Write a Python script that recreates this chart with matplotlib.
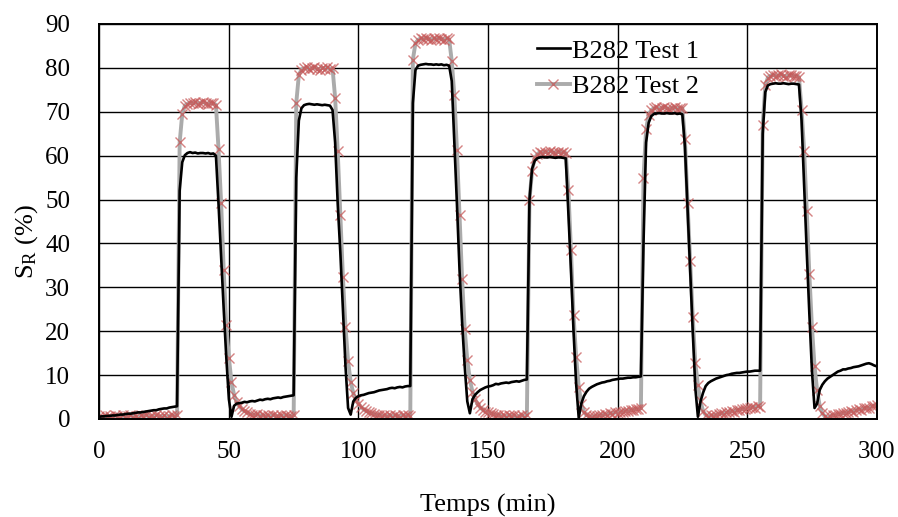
import numpy as np
import matplotlib
matplotlib.use("Agg")
import matplotlib.pyplot as plt

plt.rcParams['font.family'] = ['Liberation Serif', 'DejaVu Serif']
plt.rcParams['mathtext.fontset'] = 'custom'
plt.rcParams['mathtext.rm'] = 'Liberation Serif'
plt.rcParams['mathtext.it'] = 'Liberation Serif:italic'

# temps (min), un point par minute
temps = np.arange(0, 301)

# B282 Test 1 (S_R en %)
test1 = [
    0.5, 0.6, 0.6, 0.7, 0.7, 0.8, 0.8, 0.9, 1.0, 1.0,          # 0
    1.1, 1.2, 1.2, 1.3, 1.4, 1.5, 1.5, 1.6, 1.7, 1.8,          # 10
    1.9, 2.0, 2.0, 2.2, 2.3, 2.4, 2.4, 2.6, 2.7, 2.8,          # 20
    2.9, 52.0, 58.5, 60.1, 60.6, 60.8, 60.6, 60.7, 60.5, 60.6, # 30
    60.6, 60.5, 60.6, 60.4, 60.5, 60.0, 49.0, 37.0, 25.0, 14.0, # 40
    4.5, 0.5, 3.0, 3.5, 3.6, 3.7, 3.9, 3.8, 4.0, 4.1,          # 50
    4.0, 4.2, 4.4, 4.3, 4.5, 4.6, 4.5, 4.7, 4.8, 4.9,          # 60
    4.8, 5.0, 5.1, 5.2, 5.3, 5.4, 55.0, 68.0, 70.8, 71.5,      # 70
    71.7, 71.8, 71.7, 71.6, 71.7, 71.6, 71.5, 71.6, 71.5, 71.4, # 80
    70.4, 63.0, 49.0, 38.0, 25.0, 12.0, 2.5, 1.0, 4.0, 4.8,    # 90
    5.2, 5.4, 5.5, 5.7, 5.9, 6.0, 6.1, 6.3, 6.5, 6.6,          # 100
    6.7, 6.8, 7.0, 7.1, 7.0, 7.2, 7.3, 7.2, 7.4, 7.5,          # 110
    7.5, 72.0, 79.5, 80.5, 80.7, 80.8, 80.9, 80.8, 80.8, 80.7, # 120
    80.8, 80.7, 80.8, 80.6, 80.7, 80.5, 77.0, 63.0, 49.0, 34.0, # 130
    22.0, 12.0, 4.0, 1.3, 4.5, 5.5, 6.1, 6.6, 6.9, 7.2,        # 140
    7.4, 7.5, 7.7, 8.0, 7.9, 8.1, 8.2, 8.3, 8.2, 8.4,          # 150
    8.5, 8.6, 8.5, 8.7, 8.9, 9.0, 50.0, 57.0, 58.8, 59.4,      # 160
    59.6, 59.7, 59.6, 59.6, 59.7, 59.6, 59.5, 59.6, 59.6, 59.5, # 170
    59.4, 47.0, 34.0, 20.0, 8.0, 0.3, 3.5, 5.2, 6.2, 6.9,      # 180
    7.3, 7.6, 7.9, 8.1, 8.3, 8.4, 8.6, 8.7, 8.9, 9.0,          # 190
    9.1, 9.2, 9.2, 9.3, 9.4, 9.4, 9.5, 9.5, 9.6, 9.7,          # 200
    40.0, 63.0, 67.5, 69.0, 69.5, 69.6, 69.7, 69.6, 69.6, 69.7, # 210
    69.6, 69.6, 69.7, 69.5, 69.6, 69.4, 62.0, 48.0, 34.0, 20.0, # 220
    7.0, 0.5, 4.0, 6.0, 7.5, 8.2, 8.6, 8.9, 9.2, 9.4,          # 230
    9.6, 9.8, 10.0, 10.1, 10.3, 10.4, 10.5, 10.5, 10.6, 10.7,  # 240
    10.8, 10.8, 10.9, 11.0, 11.0, 11.0, 65.0, 74.5, 76.0, 76.3, # 250
    76.4, 76.5, 76.4, 76.4, 76.5, 76.4, 76.3, 76.4, 76.4, 76.3, # 260
    76.2, 68.0, 53.0, 38.0, 24.0, 11.0, 2.5, 3.5, 6.6, 7.8,    # 270
    8.6, 9.2, 9.6, 10.0, 10.4, 10.8, 11.0, 11.3, 11.3, 11.5,   # 280
    11.6, 11.8, 11.9, 12.0, 12.2, 12.4, 12.6, 12.7, 12.5, 12.2, # 290
    12.0,                                                       # 300
]

# B282 Test 2 (S_R en %)
test2 = [
    0.6, 0.4, 0.8, 0.5, 0.7, 0.3, 0.9, 0.6, 0.5, 0.8,          # 0
    0.4, 0.7, 0.9, 0.5, 0.6, 0.3, 0.8, 0.6, 1.0, 0.5,          # 10
    0.7, 0.4, 0.9, 0.6, 0.5, 0.8, 0.3, 0.7, 0.9, 0.6,          # 20
    0.8, 63.0, 69.5, 71.4, 71.8, 72.1, 71.9, 72.2, 71.8, 72.0, # 30
    72.3, 71.9, 71.7, 72.1, 71.9, 71.6, 61.5, 49.3, 34.0, 21.3, # 40
    14.0, 8.4, 5.5, 3.8, 2.9, 2.2, 1.8, 1.5, 1.2, 1.0,         # 50
    0.9, 1.1, 0.7, 0.9, 0.6, 0.8, 0.5, 0.9, 0.7, 0.6,          # 60
    0.8, 0.5, 0.9, 0.7, 0.6, 0.8, 72.0, 78.4, 79.6, 79.9,      # 70
    80.1, 79.7, 79.9, 80.2, 79.8, 79.6, 80.0, 79.8, 80.1, 79.7, # 80
    79.9, 73.2, 61.0, 46.5, 32.4, 21.0, 13.2, 8.5, 5.9, 4.4,   # 90
    3.4, 2.7, 2.2, 1.8, 1.5, 1.3, 1.1, 0.9, 1.0, 0.7,          # 100
    0.8, 0.6, 0.9, 0.5, 0.8, 0.7, 0.5, 0.9, 0.6, 0.8,          # 110
    0.7, 81.9, 85.6, 86.4, 86.7, 86.5, 86.8, 86.6, 86.4, 86.7, # 120
    86.5, 86.8, 86.6, 86.4, 86.7, 86.5, 81.6, 73.8, 61.3, 46.5, # 130
    31.8, 20.4, 13.4, 8.9, 6.2, 4.5, 3.4, 2.6, 2.1, 1.7,       # 140
    1.5, 1.3, 1.1, 0.9, 1.0, 0.7, 0.8, 0.5, 0.9, 0.6,          # 150
    0.8, 0.4, 0.7, 0.9, 0.5, 0.8, 50.0, 56.5, 59.4, 60.3,      # 160
    60.8, 60.6, 60.9, 60.7, 61.0, 60.8, 60.6, 60.9, 60.7, 60.8, # 170
    60.6, 52.2, 38.6, 23.7, 14.2, 7.4, 3.5, 1.6, 0.9, 0.6,     # 180
    0.4, 0.7, 0.6, 0.9, 0.8, 1.1, 1.0, 1.3, 1.2, 1.5,          # 190
    1.4, 1.7, 1.5, 1.9, 1.8, 2.1, 2.0, 2.3, 2.2, 2.4,          # 200
    55.0, 66.0, 69.3, 70.4, 70.8, 71.0, 70.7, 70.9, 71.1, 70.8, # 210
    70.6, 70.9, 71.0, 70.7, 70.9, 70.8, 63.7, 49.1, 36.1, 23.3, # 220
    12.7, 7.7, 4.0, 1.8, 0.9, 0.5, 0.8, 0.7, 1.0, 1.1,         # 230
    1.3, 1.2, 1.5, 1.6, 1.8, 1.7, 2.0, 2.1, 2.3, 2.2,          # 240
    2.5, 2.4, 2.7, 2.6, 2.9, 2.8, 67.0, 76.0, 77.8, 78.2,      # 250
    78.4, 78.1, 78.3, 78.5, 78.2, 78.0, 78.3, 78.4, 78.1, 78.2, # 260
    77.9, 70.5, 61.0, 47.5, 33.0, 21.0, 12.0, 6.5, 3.0, 1.3,   # 270
    0.6, 0.3, 0.6, 0.9, 0.8, 1.1, 1.2, 1.4, 1.3, 1.6,          # 280
    1.8, 1.7, 2.0, 2.2, 2.1, 2.4, 2.6, 2.5, 2.9, 3.0,          # 290
    3.2,                                                        # 300
]

x_ticks = [0, 50, 100, 150, 200, 250, 300]
y_ticks = [0, 10, 20, 30, 40, 50, 60, 70, 80, 90]

fig = plt.figure(figsize=(8.98, 5.17), dpi=100)
ax = fig.add_axes([0.1106, 0.1896, 0.8657, 0.764])

ax.plot(temps, test2, color='#ABABAB', linewidth=2.8, marker='x',
        markersize=6.5, markeredgewidth=1.0, markeredgecolor=(0.78, 0.35, 0.35, 0.75),
        label='B282 Test 2', zorder=2)
ax.plot(temps, test1, color='black', linewidth=1.9, label='B282 Test 1', zorder=3)

ax.set_xlim(0, 300)
ax.set_ylim(0, 90)
ax.set_xticks(x_ticks)
ax.set_yticks(y_ticks)
ax.grid(True, color='black', linewidth=1.0)
ax.set_axisbelow(True)
for s in ax.spines.values():
    s.set_linewidth(1.4)
ax.tick_params(axis='both', length=0, labelsize=18)
ax.tick_params(axis='y', pad=21)
ax.tick_params(axis='x', pad=16)

ax.set_xlabel("Temps (min)", fontsize=19, labelpad=22)
ax.set_ylabel(r"S$_\mathrm{R}$ (%)", fontsize=19)
ax.yaxis.set_label_coords(-0.076, 0.45)

h, l = ax.get_legend_handles_labels()
ax.legend(h[::-1], l[::-1], loc='upper left', bbox_to_anchor=(0.577, 0.96),
          bbox_transform=fig.transFigure, frameon=False, fontsize=19,
          handlelength=1.25, handletextpad=0.1, labelspacing=0.45,
          borderpad=0.2)

plt.savefig("out.png", dpi=100)
